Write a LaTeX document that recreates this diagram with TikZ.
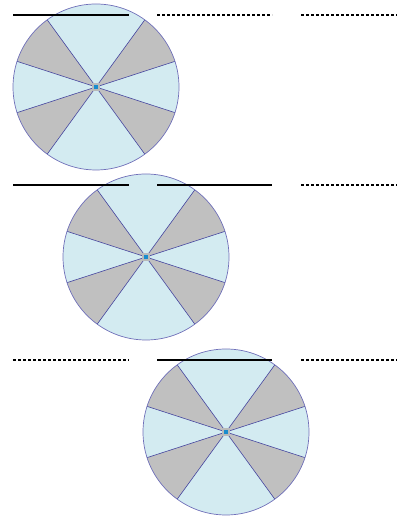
\documentclass[tikz,border=0pt]{standalone}
\usepackage{tikz}
\definecolor{WheelLight}{RGB}{211, 235, 241}
\definecolor{WheelGray}{RGB}{192, 192, 192}
\definecolor{SpokeBlue}{RGB}{70, 70, 160}
\definecolor{RimBlue}{RGB}{112, 112, 185}
\definecolor{HubBlue}{RGB}{25, 140, 205}
\begin{document}
\begin{tikzpicture}[x=1pt, y=1pt,
    rim/.style={draw=RimBlue, line width=0.7pt},
    sector/.style={fill=WheelGray},
    spoke/.style={draw=SpokeBlue, line width=0.6pt},
    hub/.style={rectangle, draw=gray!55, line width=1.2pt, fill=HubBlue, minimum size=6pt, inner sep=0pt},
    track/.style={draw=black, line width=1.5pt},
    ghost/.style={draw=black, line width=1.1pt, dash pattern=on 3pt off 2pt}
  ]
  \useasboundingbox (0,0) rectangle (397,518);

  % Wheels
  \foreach \w/\cx/\cy in {wa/96/431, wb/146/261, wc/226/86} {
    \coordinate (\w) at (\cx,\cy);
    \fill[WheelLight] (\w) circle[radius=83];
    \foreach \a in {18,126,198,306}
      \fill[sector] (\w) -- ++(\a:83) arc[start angle=\a, end angle=\a+36, radius=83] -- cycle;
    \foreach \a in {18,54,126,162,198,234,306,342}
      \draw[spoke] (\w) -- ++(\a:83);
    \draw[rim] (\w) circle[radius=83];
    \node[hub] (\w hub) at (\w) {};
  }

  % Row 1
  \coordinate (r1a) at (13,503);  \coordinate (r1b) at (129,503);
  \coordinate (r1c) at (157,503); \coordinate (r1d) at (272,503);
  \coordinate (r1e) at (301,503); \coordinate (r1f) at (397,503);
  \draw[track] (r1a) -- (r1b);
  \draw[ghost] (r1c) -- (r1d);
  \draw[ghost] (r1e) -- (r1f);

  % Row 2
  \coordinate (r2a) at (13,333);  \coordinate (r2b) at (129,333);
  \coordinate (r2c) at (157,333); \coordinate (r2d) at (272,333);
  \coordinate (r2e) at (301,333); \coordinate (r2f) at (397,333);
  \draw[track] (r2a) -- (r2b);
  \draw[track] (r2c) -- (r2d);
  \draw[ghost] (r2e) -- (r2f);

  % Row 3
  \coordinate (r3a) at (13,158);  \coordinate (r3b) at (129,158);
  \coordinate (r3c) at (157,158); \coordinate (r3d) at (272,158);
  \coordinate (r3e) at (301,158); \coordinate (r3f) at (397,158);
  \draw[ghost] (r3a) -- (r3b);
  \draw[track] (r3c) -- (r3d);
  \draw[ghost] (r3e) -- (r3f);
\end{tikzpicture}
\end{document}
